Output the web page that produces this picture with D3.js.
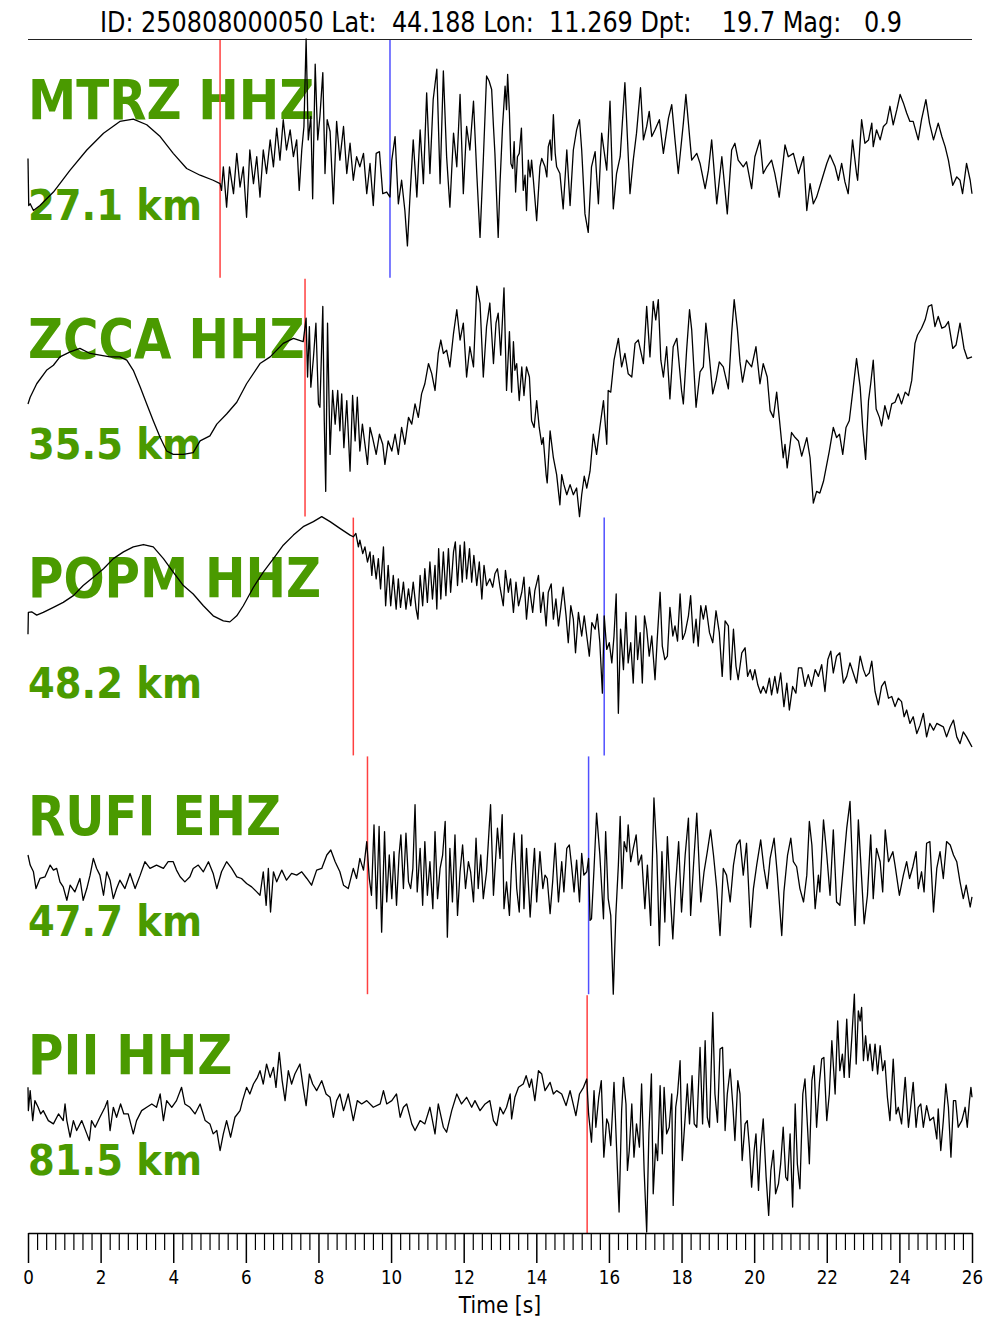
<!DOCTYPE html>
<html><head><meta charset="utf-8">
<script src="https://cdn.jsdelivr.net/npm/d3@7"></script>
<style>body{margin:0;background:#fff} svg{display:block} text{font-family:"DejaVu Sans",sans-serif}</style>
</head><body><svg id="c" width="1000" height="1333"></svg>
<script>
const titleText = "ID: 250808000050 Lat:  44.188 Lon:  11.269 Dpt:    19.7 Mag:   0.9";
const stations = ["MTRZ HHZ", "ZCCA HHZ", "POPM HHZ", "RUFI EHZ", "PII HHZ"];
const distances = ["27.1 km", "35.5 km", "48.2 km", "47.7 km", "81.5 km"];
const pPicks = [5.29, 7.63, 8.96, 9.35, 15.40];
const sPicks = [9.97, null, 15.87, 15.44, null];
const xTicks = [0,2,4,6,8,10,12,14,16,18,20,22,24,26];
const xLabel = "Time [s]";

// [time (s), amplitude (counts, arbitrary)]
const mtrz = [[0,0],[0.02,-140],[0.06,-135],[0.15,-155],[0.33,-140],[0.70,-100],[1.16,-35],[1.62,25],[2.08,75],[2.53,110],[2.90,117],[3.27,100],[3.64,65],[4.00,15],[4.37,-30],[4.74,-50],[5.10,-65],[5.29,-75],
[5.33,-95],[5.38,-25],[5.47,-145],[5.55,-25],[5.66,-105],[5.75,15],[5.84,-85],[5.93,-25],[6.02,-175],[6.11,25],[6.21,-75],[6.30,5],[6.39,-115],[6.48,25],[6.57,-45],[6.67,55],[6.76,-25],[6.85,90],[6.94,-5],[7.03,115],[7.12,25],[7.22,85],[7.31,5],[7.40,55],[7.47,-95],[7.54,25],[7.60,95],[7.66,355],[7.72,55],[7.79,125],[7.84,-120],[7.91,280],[7.98,55],[8.04,125],[8.12,255],[8.18,-45],[8.24,115],[8.32,80],[8.41,-135],[8.50,110],[8.59,-5],[8.69,95],[8.78,-45],[8.87,45],[8.96,-65],[9.05,5],[9.14,-25],[9.24,15],[9.33,-105],[9.42,-15],[9.51,-140],[9.59,15],[9.68,20],[9.77,-105],[9.88,-100],[9.97,-115],
[10.02,-5],[10.11,65],[10.20,-135],[10.29,-65],[10.38,-155],[10.45,-260],[10.52,-115],[10.61,55],[10.71,-115],[10.80,85],[10.89,-75],[10.98,195],[11.07,-45],[11.16,175],[11.26,265],[11.35,-75],[11.44,260],[11.53,5],[11.62,-145],[11.72,75],[11.81,-25],[11.90,190],[11.99,-105],[12.08,95],[12.17,25],[12.27,170],[12.36,-45],[12.45,-235],[12.54,-5],[12.63,245],[12.70,230],
[12.77,205],[12.82,95],[12.86,15],[12.91,-125],[12.95,-235],[13.00,-75],[13.07,95],[13.14,215],[13.18,145],[13.21,250],[13.26,135],[13.30,-15],[13.35,-30],[13.39,50],[13.43,-100],[13.48,5],[13.53,15],[13.59,90],[13.64,-95],[13.69,-50],[13.73,-155],[13.78,-5],[13.83,-55],[13.87,-5],[13.92,-65],[14.01,-185],[14.10,-25],[14.15,0],[14.24,-25],[14.29,-55],[14.33,35],[14.38,55],[14.42,-5],[14.47,130],[14.52,15],[14.56,-25],[14.65,-45],[14.74,-150],[14.84,25],[14.93,-140],[15.02,25],[15.11,85],[15.19,115],[15.25,25],[15.34,-165],[15.43,-220],[15.52,-25],[15.62,20],[15.71,-135],[15.80,75],[15.85,35],[15.94,-35],[16.03,170],[16.12,-150],[16.21,-45],[16.31,5],[16.44,225],[16.58,-105],[16.67,-5],[16.76,75],[16.87,210],[16.95,55],[17.04,95],[17.11,140],[17.18,65],[17.27,85],[17.39,115],[17.50,15],[17.64,120],[17.73,160],[17.82,55],[17.91,-45],[18.05,105],[18.12,190],[18.23,55],[18.28,-5],[18.42,15],[18.51,-15],[18.65,-90],[18.74,-35],[18.83,55],[18.97,-135],[19.11,5],[19.26,-165],[19.38,25],[19.47,45],[19.56,-5],[19.70,-25],[19.79,-10],[19.93,-90],[20.02,5],[20.16,55],[20.25,-45],[20.35,-25],[20.48,-5],[20.57,-45],[20.69,-115],[20.85,40],[20.94,5],[21.08,15],[21.22,-45],[21.36,5],[21.45,-155],[21.54,-75],[21.63,-135],[21.72,-115],[21.86,-65],[22.00,-15],[22.09,10],[22.23,-25],[22.32,-65],[22.41,-15],[22.50,-70],[22.59,-105],[22.71,55],[22.82,-45],[22.85,-65],[22.96,115],[23.05,45],[23.15,55],[23.24,105],[23.28,35],[23.37,85],[23.47,55],[23.56,95],[23.65,105],[23.74,155],[23.83,100],[23.93,145],[24.02,190],[24.11,165],[24.20,135],[24.29,110],[24.38,110],[24.52,55],[24.61,115],[24.73,175],[24.83,105],[24.94,55],[25.07,105],[25.17,65],[25.26,35],[25.35,-5],[25.47,-80],[25.58,-55],[25.67,-65],[25.74,-105],[25.85,-15],[25.95,-65],[26.00,-105]];

const zcca = [[0,-20],[0.06,0],[0.24,40],[0.51,80],[0.70,95],[0.88,120],[1.16,135],[1.43,145],[1.71,130],[1.98,125],[2.26,120],[2.53,120],[2.72,110],[2.90,80],[3.09,30],[3.27,-20],[3.45,-70],[3.64,-120],[3.82,-160],[4.00,-170],[4.28,-170],[4.55,-165],[4.74,-130],[5.01,-115],[5.20,-80],[5.47,-50],[5.75,-15],[6.02,40],[6.39,100],[6.67,120],[7.03,160],[7.31,175],[7.58,165],
[7.66,235],[7.70,60],[7.75,210],[7.79,30],[7.86,115],[7.93,220],[8.00,-20],[8.04,-30],[8.12,270],[8.16,-70],[8.20,-280],[8.25,220],[8.32,-170],[8.39,20],[8.46,-80],[8.53,20],[8.59,-100],[8.64,10],[8.70,-150],[8.78,-10],[8.87,-220],[8.94,5],[9.01,-130],[9.07,0],[9.14,-160],[9.21,-80],[9.28,-140],[9.35,-200],[9.42,-90],[9.49,-120],[9.59,-170],[9.68,-110],[9.77,-140],[9.83,-200],[9.92,-130],[10.02,-160],[10.11,-110],[10.20,-170],[10.29,-90],[10.38,-140],[10.48,-60],[10.57,-80],[10.66,-20],[10.75,-60],[10.84,10],[10.93,40],[11.03,100],[11.12,70],[11.21,20],[11.30,130],[11.37,170],[11.44,130],[11.53,140],[11.62,90],[11.72,190],[11.81,260],[11.90,170],[11.99,220],[12.08,60],[12.17,150],[12.27,90],[12.36,330],[12.45,280],[12.54,60],[12.63,210],[12.72,280],
[12.82,100],[12.89,220],[12.95,250],[13.02,125],[13.11,325],[13.18,20],[13.26,195],[13.32,15],[13.37,165],[13.41,80],[13.46,100],[13.53,-10],[13.60,90],[13.66,5],[13.73,90],[13.81,60],[13.87,-70],[13.94,-90],[14.01,-10],[14.08,-90],[14.15,-140],[14.19,-120],[14.27,-230],[14.30,-255],[14.38,-100],[14.47,-180],[14.56,-230],[14.65,-320],[14.70,-230],[14.76,-260],[14.84,-290],[14.93,-260],[15.02,-290],[15.11,-270],[15.19,-355],[15.25,-290],[15.32,-235],[15.39,-270],[15.48,-220],[15.57,-110],[15.66,-170],[15.75,-90],[15.85,-10],[15.94,-140],[15.98,20],[16.05,15],[16.14,110],[16.26,175],[16.35,90],[16.44,130],[16.53,70],[16.63,60],[16.72,160],[16.81,170],[16.95,100],[17.04,270],[17.13,120],[17.22,285],[17.29,230],[17.36,290],[17.43,110],[17.50,60],[17.59,150],[17.68,-5],[17.77,150],[17.87,175],[18.00,20],[18.05,-20],[18.14,140],[18.22,260],[18.28,200],[18.40,-30],[18.51,75],[18.60,90],[18.67,220],[18.74,150],[18.86,10],[18.95,50],[19.04,105],[19.15,90],[19.29,25],[19.38,190],[19.45,290],[19.54,200],[19.61,105],[19.68,45],[19.79,110],[19.93,90],[20.05,150],[20.16,40],[20.25,100],[20.36,60],[20.44,-40],[20.53,-60],[20.62,15],[20.69,-60],[20.80,-180],[20.85,-140],[20.91,-210],[21.03,-105],[21.13,-120],[21.22,-130],[21.31,-175],[21.45,-120],[21.54,-180],[21.63,-315],[21.72,-280],[21.81,-285],[21.91,-250],[22.00,-200],[22.07,-160],[22.18,-90],[22.27,-120],[22.35,-110],[22.44,-170],[22.53,-90],[22.62,-70],[22.73,30],[22.82,115],[22.92,30],[22.99,-90],[23.07,-185],[23.15,-10],[23.21,40],[23.28,110],[23.36,-35],[23.45,-60],[23.51,-85],[23.60,-25],[23.70,-65],[23.79,-20],[23.88,-15],[23.97,10],[24.06,-20],[24.16,15],[24.25,5],[24.34,50],[24.43,160],[24.50,185],[24.61,205],[24.71,230],[24.80,270],[24.89,275],[24.98,210],[25.07,240],[25.17,205],[25.26,210],[25.35,225],[25.47,145],[25.56,155],[25.67,220],[25.78,145],[25.87,115],[26.00,120]];

const popm = [[0,5],[0.01,70],[0.10,72],[0.24,62],[0.42,70],[0.70,85],[0.97,100],[1.25,120],[1.52,150],[1.80,175],[2.08,200],[2.35,230],[2.63,250],[2.90,265],[3.18,272],[3.45,265],[3.73,230],[4.00,190],[4.28,150],[4.55,125],[4.83,90],[5.10,60],[5.38,45],[5.56,42],[5.75,60],[5.93,90],[6.21,145],[6.48,190],[6.76,230],[7.03,270],[7.31,300],[7.58,325],[7.86,340],[8.09,355],[8.32,340],[8.59,320],[8.87,300],[8.96,295],
[9.03,305],[9.10,265],[9.14,285],[9.22,245],[9.28,265],[9.35,220],[9.42,250],[9.47,180],[9.51,240],[9.59,170],[9.65,230],[9.71,140],[9.79,265],[9.85,90],[9.92,210],[9.99,90],[10.06,180],[10.14,80],[10.20,170],[10.26,85],[10.34,160],[10.41,80],[10.48,140],[10.54,90],[10.61,160],[10.69,80],[10.74,50],[10.80,180],[10.87,90],[10.93,200],[11.00,100],[11.07,220],[11.14,110],[11.21,210],[11.26,80],[11.31,260],[11.37,110],[11.44,250],[11.51,120],[11.58,260],[11.64,130],[11.72,250],[11.77,280],[11.83,150],[11.90,270],[11.96,160],[12.02,280],[12.08,170],[12.16,260],[12.22,160],[12.28,240],[12.36,150],[12.43,220],[12.50,110],[12.56,210],[12.63,150],[12.72,170],
[12.80,145],[12.86,185],[12.93,200],[13.00,145],[13.09,90],[13.15,195],[13.23,130],[13.29,170],[13.37,70],[13.44,160],[13.51,90],[13.60,130],[13.66,175],[13.73,50],[13.81,145],[13.90,70],[13.96,135],[14.06,180],[14.12,70],[14.19,130],[14.27,30],[14.33,130],[14.41,155],[14.47,50],[14.54,110],[14.61,30],[14.67,80],[14.74,145],[14.82,60],[14.88,-20],[14.95,90],[15.02,50],[15.08,-50],[15.16,70],[15.25,0],[15.32,60],[15.39,0],[15.46,-60],[15.53,40],[15.62,20],[15.68,65],[15.75,-20],[15.82,-170],[15.87,60],[15.94,-40],[16.01,-20],[16.08,-80],[16.14,0],[16.20,125],[16.26,-230],[16.32,20],[16.40,-100],[16.47,70],[16.53,-80],[16.60,-20],[16.67,-140],[16.74,60],[16.79,-70],[16.86,10],[16.92,-140],[16.98,60],[17.04,20],[17.11,-60],[17.18,0],[17.27,-130],[17.33,-10],[17.41,130],[17.47,-30],[17.54,-70],[17.61,-60],[17.68,85],[17.76,0],[17.82,30],[17.89,-15],[17.96,125],[18.03,-10],[18.10,10],[18.19,60],[18.25,120],[18.33,-20],[18.40,50],[18.46,-30],[18.53,90],[18.60,50],[18.67,90],[18.77,10],[18.86,-20],[18.95,75],[19.04,10],[19.12,-120],[19.20,45],[19.29,30],[19.35,-130],[19.43,20],[19.50,-90],[19.56,-130],[19.66,-50],[19.75,-35],[19.82,-120],[19.89,-100],[19.96,-130],[20.02,-100],[20.10,-145],[20.18,-170],[20.25,-150],[20.33,-170],[20.42,-125],[20.48,-175],[20.57,-120],[20.64,-170],[20.73,-110],[20.82,-210],[20.90,-140],[20.97,-220],[21.06,-150],[21.15,-170],[21.22,-95],[21.31,-95],[21.40,-150],[21.49,-115],[21.58,-150],[21.68,-100],[21.77,-120],[21.86,-85],[21.95,-165],[22.03,-70],[22.11,-45],[22.18,-110],[22.27,-60],[22.36,-50],[22.46,-140],[22.55,-120],[22.64,-80],[22.73,-110],[22.82,-140],[22.92,-60],[23.01,-100],[23.08,-120],[23.17,-110],[23.24,-75],[23.33,-165],[23.42,-205],[23.51,-150],[23.60,-135],[23.70,-185],[23.79,-180],[23.88,-210],[23.97,-185],[24.06,-195],[24.13,-240],[24.20,-220],[24.29,-260],[24.38,-240],[24.48,-290],[24.57,-265],[24.66,-230],[24.75,-300],[24.84,-260],[24.94,-280],[25.03,-260],[25.12,-265],[25.21,-270],[25.30,-300],[25.40,-270],[25.49,-250],[25.58,-300],[25.67,-320],[25.76,-285],[25.85,-300],[25.95,-320],[26.00,-330]];

const rufi = [[0,59],[0.06,29],[0.15,9],[0.22,-41],[0.33,-11],[0.47,-6],[0.61,29],[0.70,14],[0.79,19],[0.88,-21],[0.97,-36],[1.07,-76],[1.16,-31],[1.29,-51],[1.43,-11],[1.52,-76],[1.62,-41],[1.71,-1],[1.80,49],[1.89,19],[1.98,-1],[2.08,-61],[2.17,9],[2.26,-16],[2.35,-71],[2.44,-41],[2.53,-16],[2.67,-41],[2.81,4],[2.95,-41],[3.09,-1],[3.22,39],[3.36,19],[3.54,29],[3.73,19],[3.86,39],[4.00,39],[4.09,14],[4.19,-6],[4.32,-21],[4.46,-6],[4.55,19],[4.69,29],[4.83,9],[4.97,39],[5.10,4],[5.20,-41],[5.33,9],[5.47,39],[5.61,19],[5.75,-6],[5.88,-11],[6.02,-26],[6.16,-36],[6.30,-51],[6.39,-61],[6.48,9],[6.56,-91],[6.62,19],[6.68,-111],[6.76,9],[6.85,-21],[6.99,14],[7.12,-16],[7.26,4],[7.40,-1],[7.54,9],[7.68,-11],[7.81,-31],[7.95,14],[8.09,19],[8.23,59],[8.34,74],[8.46,39],[8.59,9],[8.69,-31],[8.82,-41],[8.96,19],[9.05,-11],[9.14,49],[9.24,14],[9.33,99],
[9.40,-11],[9.46,-61],[9.53,149],[9.60,-101],[9.67,144],[9.74,-171],[9.82,129],[9.88,-81],[9.95,59],[10.02,-71],[10.08,69],[10.15,-91],[10.22,59],[10.27,119],[10.34,-41],[10.41,124],[10.48,-21],[10.54,-41],[10.60,19],[10.66,209],[10.72,-51],[10.80,79],[10.87,-91],[10.93,99],[11.00,-61],[11.07,39],[11.15,-101],[11.21,129],[11.28,-71],[11.35,19],[11.42,59],[11.49,159],[11.55,-186],[11.62,79],[11.69,-81],[11.76,119],[11.83,-121],[11.90,9],[11.97,89],[12.05,-41],[12.13,39],[12.19,9],[12.27,-81],[12.34,109],[12.40,-41],[12.47,59],[12.54,-71],[12.63,9],[12.68,99],[12.74,209],[12.82,-61],
[12.93,139],[13.00,49],[13.06,179],[13.11,-101],[13.18,-21],[13.26,-121],[13.32,29],[13.39,124],[13.46,-41],[13.53,-111],[13.60,119],[13.66,-101],[13.73,79],[13.83,-126],[13.90,-1],[13.95,79],[14.01,-81],[14.10,69],[14.18,-41],[14.24,-1],[14.30,-11],[14.38,-116],[14.45,-21],[14.52,94],[14.61,-81],[14.70,39],[14.76,-51],[14.84,79],[14.91,89],[14.97,29],[15.04,-51],[15.11,44],[15.19,-81],[15.25,64],[15.31,-1],[15.39,9],[15.44,49],[15.48,-136],[15.52,-131],[15.59,19],[15.66,184],[15.75,59],[15.85,-131],[15.91,129],[15.98,-71],[16.05,-121],[16.12,-356],[16.19,-121],[16.26,29],[16.31,174],[16.36,-41],[16.42,99],[16.49,69],[16.53,149],[16.60,39],[16.67,79],[16.75,119],[16.81,29],[16.90,59],[16.99,-101],[17.06,29],[17.15,-151],[17.24,229],[17.32,59],[17.39,-211],[17.46,69],[17.54,-141],[17.61,114],[17.68,-41],[17.76,-191],[17.83,-41],[17.92,99],[18.00,-111],[18.10,59],[18.19,169],[18.25,-121],[18.33,29],[18.42,184],[18.53,-81],[18.62,9],[18.71,69],[18.80,134],[18.88,59],[18.97,-41],[19.06,-181],[19.15,19],[19.24,-1],[19.34,-81],[19.43,29],[19.52,89],[19.61,104],[19.70,-1],[19.79,94],[19.90,-156],[19.98,-41],[20.07,29],[20.18,104],[20.27,19],[20.36,-41],[20.44,49],[20.55,109],[20.64,-1],[20.76,-181],[20.82,-51],[20.92,59],[21.01,109],[21.08,39],[21.17,24],[21.26,-41],[21.36,-81],[21.45,-1],[21.52,159],[21.59,89],[21.68,-101],[21.77,-1],[21.81,-51],[21.91,164],[22.00,59],[22.09,-61],[22.18,134],[22.27,-81],[22.36,-91],[22.46,29],[22.55,139],[22.64,219],[22.73,-41],[22.78,-151],[22.87,164],[22.93,49],[23.03,-146],[23.12,-61],[23.21,119],[23.28,-71],[23.37,79],[23.47,39],[23.54,-51],[23.61,134],[23.70,39],[23.82,69],[23.88,29],[24.00,-61],[24.11,-1],[24.20,39],[24.28,-11],[24.37,24],[24.46,69],[24.52,-41],[24.61,9],[24.68,-51],[24.75,94],[24.84,99],[24.94,-111],[25.03,19],[25.12,69],[25.21,-11],[25.30,99],[25.40,89],[25.49,59],[25.58,39],[25.67,-21],[25.76,-71],[25.84,-31],[25.95,-96],[26.00,-66]];

const pii = [[0,79],[0.01,9],[0.06,69],[0.13,-21],[0.19,39],[0.28,19],[0.35,-1],[0.42,9],[0.56,-21],[0.70,-31],[0.84,-1],[0.97,-21],[1.02,29],[1.07,-21],[1.16,-71],[1.25,-21],[1.34,-51],[1.48,-21],[1.62,-61],[1.69,-81],[1.75,-21],[1.85,-41],[1.98,-11],[2.12,19],[2.19,39],[2.26,-51],[2.35,19],[2.44,-11],[2.55,29],[2.64,-1],[2.76,-1],[2.90,-61],[2.99,-21],[3.13,9],[3.27,19],[3.41,29],[3.54,19],[3.64,59],[3.73,-21],[3.82,39],[3.96,19],[4.09,39],[4.23,79],[4.32,29],[4.46,19],[4.60,-1],[4.74,29],[4.88,-21],[5.01,-31],[5.10,-61],[5.20,-51],[5.29,-111],[5.38,-61],[5.47,-21],[5.58,-71],[5.70,-11],[5.84,9],[5.91,39],[6.02,79],[6.11,59],[6.21,89],[6.32,109],[6.39,129],[6.48,89],[6.57,149],[6.67,109],[6.76,139],[6.83,79],[6.92,184],[7.00,99],[7.08,39],[7.17,129],[7.26,89],[7.35,119],[7.49,149],[7.58,79],[7.66,24],[7.75,119],[7.84,89],[7.95,69],[8.09,99],[8.21,59],[8.32,49],[8.41,-11],[8.50,39],[8.59,59],[8.69,9],[8.82,59],[8.96,-21],[9.07,39],[9.19,29],[9.33,39],[9.51,19],[9.70,29],[9.79,69],[9.88,29],[10.02,39],[10.15,59],[10.25,-11],[10.34,19],[10.43,29],[10.57,-31],[10.66,-51],[10.80,-21],[10.93,-31],[11.07,19],[11.21,-61],[11.30,29],[11.44,-41],[11.53,-56],[11.67,9],[11.81,59],[11.94,29],[12.08,49],[12.22,19],[12.31,39],[12.45,9],[12.59,29],[12.72,39],
[12.82,-21],[12.91,-36],[13.00,19],[13.09,-1],[13.18,19],[13.28,59],[13.32,-16],[13.41,49],[13.51,79],[13.64,89],[13.72,114],[13.81,79],[13.87,104],[13.96,39],[14.06,129],[14.15,119],[14.24,69],[14.38,94],[14.47,59],[14.56,69],[14.70,59],[14.82,24],[14.93,69],[15.09,-6],[15.19,59],[15.30,79],[15.39,104],[15.44,-1],[15.52,-86],[15.59,69],[15.64,-41],[15.72,49],[15.79,99],[15.86,-131],[15.94,-16],[15.99,-31],[16.05,-96],[16.14,94],[16.21,-101],[16.28,-296],[16.35,9],[16.40,109],[16.47,29],[16.51,-171],[16.56,-111],[16.63,29],[16.69,-131],[16.76,-31],[16.84,-101],[16.90,89],[16.97,-171],[17.04,-356],[17.10,-61],[17.17,119],[17.22,-241],[17.29,-91],[17.34,-141],[17.41,84],[17.47,-121],[17.52,79],[17.59,-61],[17.66,-41],[17.73,59],[17.77,-276],[17.84,19],[17.89,59],[17.96,159],[18.02,-141],[18.10,-11],[18.16,89],[18.22,-31],[18.29,114],[18.35,-31],[18.42,-41],[18.51,199],[18.58,-31],[18.65,219],[18.71,-11],[18.77,-41],[18.86,304],[18.92,59],[18.99,-26],[19.06,194],[19.13,199],[19.20,-51],[19.26,59],[19.34,134],[19.41,29],[19.47,-81],[19.55,99],[19.61,59],[19.67,-141],[19.75,-31],[19.81,-21],[19.87,-101],[19.93,-221],[20.00,-111],[20.05,-61],[20.12,-231],[20.18,-101],[20.25,-16],[20.33,-191],[20.40,-306],[20.46,-171],[20.53,-111],[20.59,-241],[20.67,-211],[20.73,-151],[20.80,-41],[20.87,-191],[20.92,-201],[20.99,-61],[21.06,-281],[21.13,29],[21.19,-151],[21.26,-226],[21.34,59],[21.40,104],[21.47,-41],[21.52,-151],[21.59,99],[21.65,144],[21.72,-41],[21.80,94],[21.86,164],[21.92,169],[22.00,-21],[22.07,59],[22.14,219],[22.23,59],[22.30,279],[22.36,129],[22.43,179],[22.48,109],[22.55,284],[22.62,109],[22.69,229],[22.76,359],[22.81,149],[22.87,309],[22.92,279],[22.96,319],[23.01,159],[23.07,234],[23.13,159],[23.19,209],[23.26,129],[23.33,209],[23.40,119],[23.47,204],[23.54,129],[23.60,159],[23.67,49],[23.74,-21],[23.83,164],[23.91,-1],[23.97,19],[24.06,-31],[24.16,109],[24.25,-41],[24.31,19],[24.38,94],[24.46,-41],[24.52,19],[24.59,29],[24.66,-41],[24.75,24],[24.84,-21],[24.94,-11],[25.03,-76],[25.07,14],[25.14,-111],[25.21,-21],[25.28,89],[25.35,19],[25.42,-131],[25.49,39],[25.55,39],[25.62,-41],[25.72,-21],[25.81,19],[25.87,-41],[25.93,39],[25.97,79],[26.00,49]];

const traces = [mtrz, zcca, popm, rufi, pii];

const left = 28, right = 972, top0 = 39, panelH = 238.8;
const sx = 0.88; // horizontal squeeze of the rendered text
const green = "#4a9a00";
const svg = d3.select("#c");
const x = d3.scaleLinear().domain([0, 26]).range([left, right]);

// title
svg.append("text")
  .attr("transform", `translate(501,32) scale(0.87,1)`)
  .attr("text-anchor", "middle").attr("font-size", 27.5)
  .style("white-space", "pre").attr("xml:space", "preserve")
  .text(titleText);
svg.append("line").attr("x1", left).attr("x2", right).attr("y1", 39.5).attr("y2", 39.5)
  .attr("stroke", "#222").attr("stroke-width", 1.2);

traces.forEach((tr, i) => {
  const T = top0 + i * panelH;
  const m = d3.max(tr, d => Math.abs(d[1]));
  const y = d3.scaleLinear().domain([-m, m]).range([T + panelH, T]);
  const g = svg.append("g");
  g.append("text").attr("transform", `translate(${left},${T + 80}) scale(${sx},1)`)
    .attr("font-size", 55).attr("font-weight", "bold").attr("fill", green).text(stations[i]);
  g.append("text").attr("transform", `translate(${left},${T + 181}) scale(0.895,1)`)
    .attr("font-size", 43).attr("font-weight", "bold").attr("fill", green).text(distances[i]);
  const picks = [[pPicks[i], "#ff4040"], [sPicks[i], "#5050ff"]].filter(p => p[0] != null);
  g.selectAll("line.pick").data(picks).join("line").attr("class", "pick")
    .attr("x1", d => x(d[0])).attr("x2", d => x(d[0]))
    .attr("y1", T + 1).attr("y2", T + panelH)
    .attr("stroke", d => d[1]).attr("stroke-width", 1.5);
  g.append("path").datum(tr)
    .attr("d", d3.line().x(d => x(d[0])).y(d => y(d[1])))
    .attr("fill", "none").attr("stroke", "#000").attr("stroke-width", 1.3)
    .attr("stroke-linejoin", "round");
});

// x axis
const axY = top0 + 5 * panelH;
const minor = d3.range(0, 26.001, 0.25).filter(v => Math.abs(v / 2 - Math.round(v / 2)) > 1e-6);
const gMin = svg.append("g").attr("transform", `translate(0,${axY})`)
  .call(d3.axisBottom(x).tickValues(minor).tickSize(17).tickSizeOuter(0).tickFormat(""));
gMin.select(".domain").remove();
gMin.selectAll("line").attr("stroke", "#000").attr("stroke-width", 1.2);
const gAx = svg.append("g").attr("transform", `translate(0,${axY})`)
  .call(d3.axisBottom(x).tickValues(xTicks).tickSize(30).tickSizeOuter(0).tickPadding(8).tickFormat(d3.format("d")));
gAx.select(".domain").attr("stroke", "#000").attr("stroke-width", 1.5);
gAx.selectAll("line").attr("stroke", "#000").attr("stroke-width", 1.5);
gAx.selectAll("text").attr("font-size", 19).attr("font-family", "DejaVu Sans").attr("fill", "#000")
  .attr("transform", `scale(${sx},1)`);
svg.append("text").attr("transform", `translate(500,1313) scale(${sx},1)`)
  .attr("text-anchor", "middle").attr("font-size", 23).text(xLabel);
</script></body></html>
